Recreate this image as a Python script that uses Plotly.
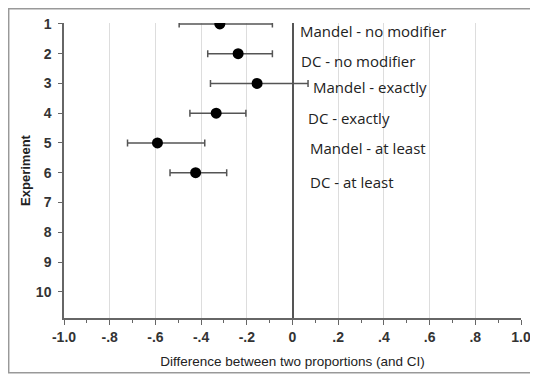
import plotly.graph_objects as go

experiments = [1, 2, 3, 4, 5, 6]
diff = [-0.318, -0.238, -0.155, -0.334, -0.591, -0.424]
ci_low = [-0.496, -0.371, -0.359, -0.449, -0.722, -0.536]
ci_high = [-0.088, -0.088, 0.068, -0.204, -0.384, -0.288]
labels = ["Mandel - no modifier", "DC - no modifier", "Mandel - exactly",
          "DC - exactly", "Mandel - at least", "DC - at least"]
label_x = [0.022, 0.028, 0.083, 0.061, 0.069, 0.066]
label_y = [1.225, 2.244, 3.13, 4.15, 5.18, 6.30]
x_ticks = [-1.0, -0.8, -0.6, -0.4, -0.2, 0, 0.2, 0.4, 0.6, 0.8, 1.0]
x_ticktext = ["-1.0", "-.8", "-.6", "-.4", "-.2", "0", ".2", ".4", ".6", ".8", "1.0"]
y_ticks = list(range(1, 11))

fig = go.Figure()
fig.add_trace(go.Scatter(
    x=diff, y=experiments, mode="markers",
    marker=dict(color="black", size=11),
    error_x=dict(type="data", symmetric=False,
                 array=[h - d for h, d in zip(ci_high, diff)],
                 arrayminus=[d - l for d, l in zip(diff, ci_low)],
                 color="#555555", thickness=1.5, width=3.5),
    showlegend=False,
))

for t, xx, yy in zip(labels, label_x, label_y):
    fig.add_annotation(x=xx, y=yy, text=t, showarrow=False, xanchor="left",
                       yanchor="middle", font=dict(family="Open Sans", size=15, color="#222222"))

fig.update_layout(
    width=530, height=368,
    margin=dict(l=56, r=17, t=15, b=58, autoexpand=False),
    paper_bgcolor="white", plot_bgcolor="white",
    font=dict(family="Arial", color="#333333"),
    shapes=[dict(type="rect", xref="paper", yref="paper",
                 x0=-0.121, x1=1.06, y0=-0.186, y1=1.048,
                 line=dict(color="#999999", width=1.5))],
)
fig.update_xaxes(
    range=[-1.0, 1.0], tickvals=x_ticks, ticktext=x_ticktext, automargin=False,
    showgrid=True, gridcolor="#dddddd", gridwidth=1,
    zeroline=True, zerolinecolor="#555555", zerolinewidth=1.5,
    showline=True, linecolor="#666666", linewidth=1.5,
    ticks="outside", ticklen=5, tickcolor="#666666",
    minor=dict(dtick=0.1, tick0=0, ticks="outside", ticklen=3, tickcolor="#666666", showgrid=False),
    tickfont=dict(size=14, color="#333333", weight="bold"),
    title=dict(text="Difference between two proportions (and CI)", font=dict(size=13.5, color="#222222"), standoff=13),
)
fig.update_yaxes(
    range=[10.88, 0.97], tickvals=y_ticks, automargin=False,
    showgrid=False, zeroline=False,
    showline=True, linecolor="#666666", linewidth=1.5,
    ticks="outside", ticklen=4, tickcolor="#666666", ticklabelstandoff=4,
    tickfont=dict(size=14, color="#333333", weight="bold"),
    title=dict(text="<b>Experiment</b>", font=dict(size=13, color="#222222"), standoff=2),
)

fig.write_html("out.html")
